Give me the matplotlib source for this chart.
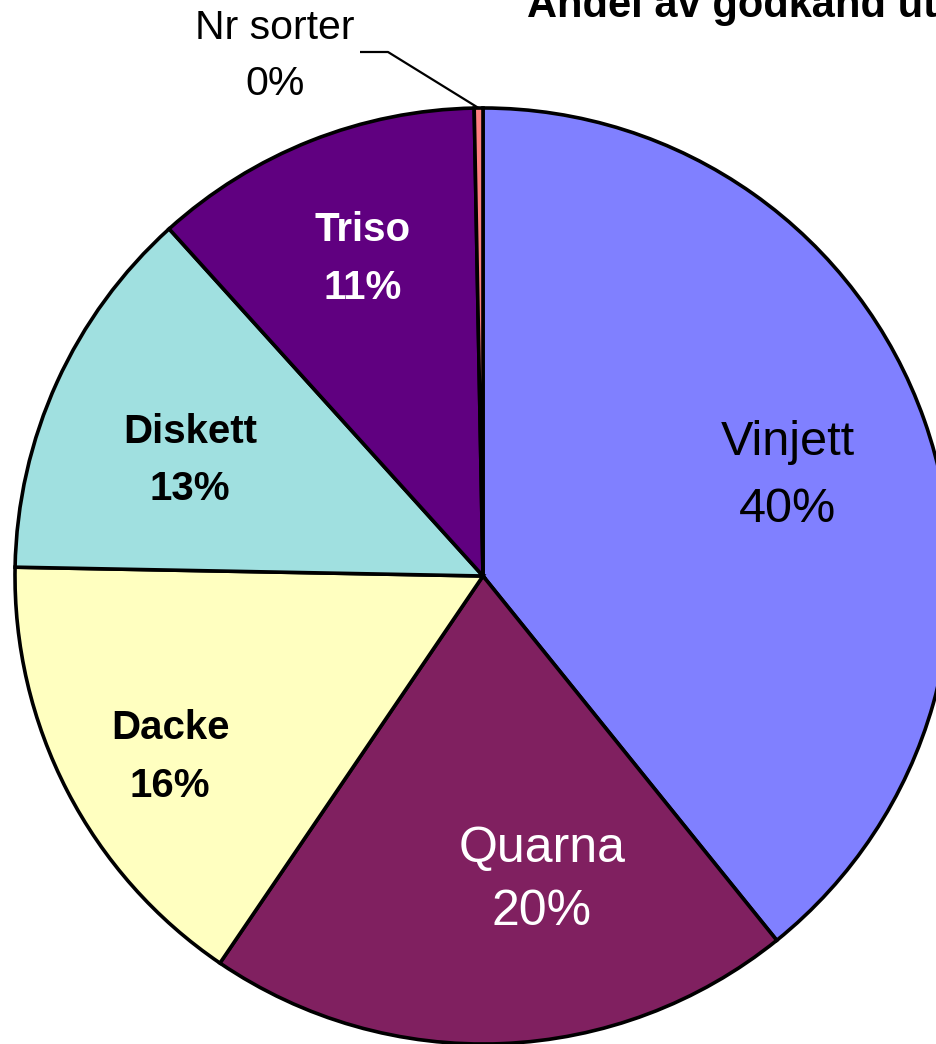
import matplotlib.pyplot as plt
import numpy as np

# slice data, clockwise from 12 o'clock
names = ['Vinjett', 'Quarna', 'Dacke', 'Diskett', 'Triso', 'Nr sorter']
shares = [39.2, 20.3, 15.8, 13.0, 11.4, 0.3]
pct_labels = ['40%', '20%', '16%', '13%', '11%', '0%']
colors = ['#8080FF', '#802060', '#FFFFC0', '#A0E0E0', '#600080', '#FF8080']
title = 'Andel av godkänd ut'

# figure geometry in pixels (pie centre and radius)
W, H = 936, 1044
CX, CY, R = 483, 576, 468


def px(x, y):
    # pixel position -> data coords (pie radius = 1)
    return (x - CX) / R, (CY - y) / R


# label layout: x centre, name baseline, pct baseline, size, weight, colour
label_style = {
    'Vinjett':   (788, 455, 522, 35, 'normal', 'black'),
    'Quarna':    (542, 862, 925, 36, 'normal', 'white'),
    'Dacke':     (170, 739, 797, 29, 'bold', 'black'),
    'Diskett':   (190, 443, 500, 29, 'bold', 'black'),
    'Triso':     (363, 241, 299, 29, 'bold', 'white'),
    'Nr sorter': (275, 39, 95, 29.5, 'normal', 'black'),
}

plt.rcParams['font.family'] = ['Liberation Sans', 'DejaVu Sans']

fig = plt.figure(figsize=(W / 100, H / 100), dpi=100)
ax = fig.add_axes([0, 0, 1, 1])

wedges, _ = ax.pie(shares, colors=colors, startangle=90, counterclock=False,
                   radius=1, wedgeprops=dict(edgecolor='black', linewidth=2.6))

for name, pct in zip(names, pct_labels):
    x, yb1, yb2, size, weight, col = label_style[name]
    ax.text(*px(x, yb1), name, ha='center', va='baseline', fontsize=size,
            fontweight=weight, color=col)
    ax.text(*px(x, yb2), pct, ha='center', va='baseline', fontsize=size,
            fontweight=weight, color=col)

# leader line for the tiny slice
w = wedges[names.index('Nr sorter')]
mid = np.deg2rad((w.theta1 + w.theta2) / 2)
x0, y0 = np.cos(mid), np.sin(mid)
x1, y1 = px(388, 52)
x2, y2 = px(360, 52)
ax.plot([x0, x1, x2], [y0, y1, y2], color='black', linewidth=1.6,
        solid_capstyle='butt', zorder=5)

# title, cut off at the top of the picture (as in the source)
ax.text(*px(527, 17), title, ha='left', va='baseline', fontsize=30,
        fontweight='bold', color='black')

ax.set_xlim(-CX / R, (W - CX) / R)
ax.set_ylim((CY - H) / R, CY / R)
ax.set_aspect('equal')
ax.axis('off')

fig.savefig('out.png', dpi=100)
